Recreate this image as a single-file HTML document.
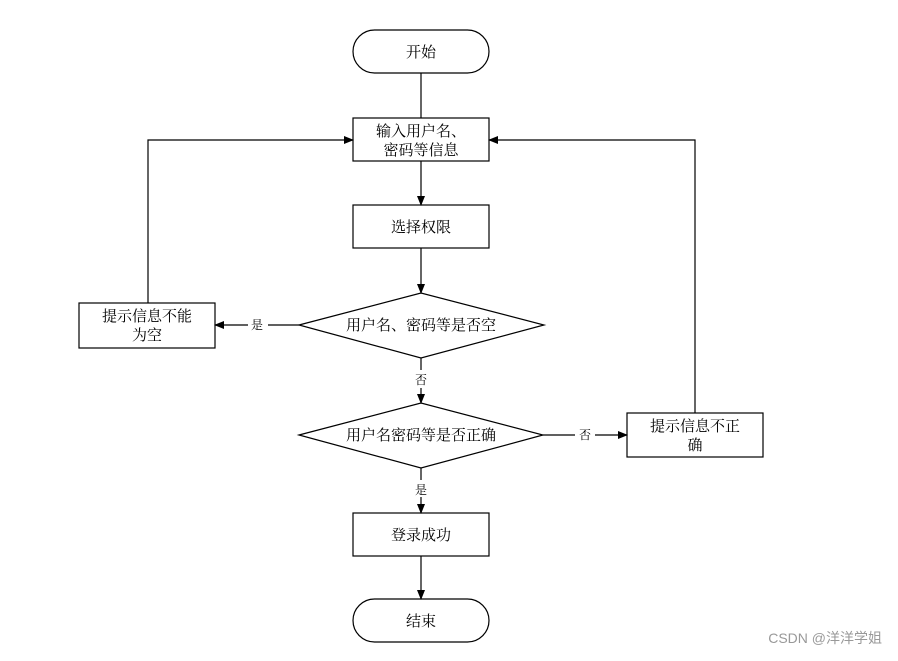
<!DOCTYPE html>
<html><head><meta charset="utf-8"><style>
body{margin:0;background:#fff;}
svg text{font-family:"Liberation Serif","Noto Serif CJK SC",serif;fill:#000;}
</style></head><body>
<svg width="898" height="656" viewBox="0 0 898 656" xmlns="http://www.w3.org/2000/svg">
<defs><marker id="a" markerWidth="10" markerHeight="10" refX="9" refY="5" orient="auto" markerUnits="userSpaceOnUse"><path d="M0,1 L10,5 L0,9 Z" fill="#000"/></marker></defs>
<g stroke="#000" stroke-width="1.2" fill="none">
<rect x="353" y="30" width="136" height="43" rx="21.5" fill="#fff"/>
<rect x="353" y="118" width="136" height="43" fill="#fff"/>
<rect x="353" y="205" width="136" height="43" fill="#fff"/>
<polygon points="299,325 421,293 544,325 421,358" fill="#fff"/>
<rect x="79" y="303" width="136" height="45" fill="#fff"/>
<polygon points="299,435 421,403 543,435 421,468" fill="#fff"/>
<rect x="627" y="413" width="136" height="44" fill="#fff"/>
<rect x="353" y="513" width="136" height="43" fill="#fff"/>
<rect x="353" y="599" width="136" height="43" rx="21.5" fill="#fff"/>
<line x1="421" y1="73" x2="421" y2="118"/>
<line x1="421" y1="161" x2="421" y2="205" marker-end="url(#a)"/>
<line x1="421" y1="248" x2="421" y2="293" marker-end="url(#a)"/>
<line x1="421" y1="358" x2="421" y2="370"/>
<line x1="421" y1="388" x2="421" y2="403" marker-end="url(#a)"/>
<line x1="299" y1="325" x2="268" y2="325"/>
<line x1="248" y1="325" x2="215" y2="325" marker-end="url(#a)"/>
<polyline points="148,303 148,140 353,140" marker-end="url(#a)"/>
<line x1="543" y1="435" x2="575" y2="435"/>
<line x1="595" y1="435" x2="627" y2="435" marker-end="url(#a)"/>
<polyline points="695,413 695,140 489,140" marker-end="url(#a)"/>
<line x1="421" y1="468" x2="421" y2="480"/>
<line x1="421" y1="497" x2="421" y2="513" marker-end="url(#a)"/>
<line x1="421" y1="556" x2="421" y2="599" marker-end="url(#a)"/>
</g>
<g font-size="15" text-anchor="middle">
<text x="421" y="57">开始</text>
<text x="421" y="136">输入用户名、</text>
<text x="421" y="155">密码等信息</text>
<text x="421" y="232">选择权限</text>
<text x="421" y="330">用户名、密码等是否空</text>
<text x="147" y="321">提示信息不能</text>
<text x="147" y="340">为空</text>
<text x="421" y="440">用户名密码等是否正确</text>
<text x="695" y="431">提示信息不正</text>
<text x="695" y="450">确</text>
<text x="421" y="540">登录成功</text>
<text x="421" y="626">结束</text>
</g>
<g font-size="12" text-anchor="middle">
<text x="257" y="329">是</text>
<text x="421" y="384">否</text>
<text x="585" y="439">否</text>
<text x="421" y="494">是</text>
</g>
<text x="882" y="643" text-anchor="end" font-size="14" style="font-family:'Liberation Sans','Noto Sans CJK SC',sans-serif;fill:#999">CSDN @洋洋学姐</text>
</svg>
</body></html>
